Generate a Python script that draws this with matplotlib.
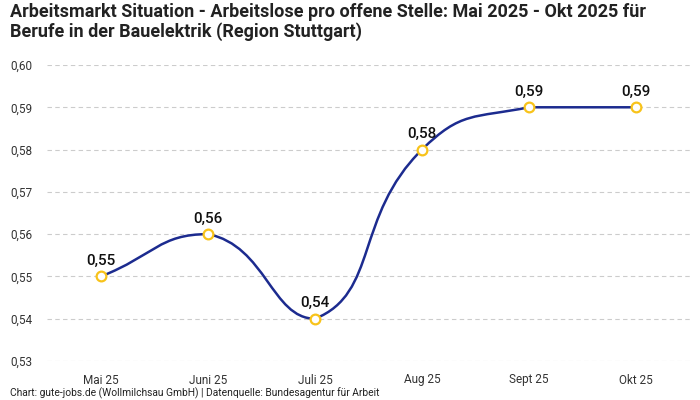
import numpy as np
import matplotlib
matplotlib.use("Agg")
import matplotlib.pyplot as plt
from matplotlib.path import Path
from matplotlib.patches import PathPatch

plt.rcParams["font.family"] = ["Roboto", "DejaVu Sans"]

# data
months = ["Mai 25", "Juni 25", "Juli 25", "Aug 25", "Sept 25", "Okt 25"]
values = [0.55, 0.56, 0.54, 0.58, 0.59, 0.59]
yticks = [0.53, 0.54, 0.55, 0.56, 0.57, 0.58, 0.59, 0.60]

title = ("Arbeitsmarkt Situation - Arbeitslose pro offene Stelle: Mai 2025 - Okt 2025 für\n"
         "Berufe in der Bauelektrik (Region Stuttgart)")
source = "Chart: gute-jobs.de (Wollmilchsau GmbH) | Datenquelle: Bundesagentur für Arbeit"

LINE = "#1c2b8f"
MARK = "#f8c31a"

fig = plt.figure(figsize=(7, 4), dpi=100)
ax = fig.add_axes([47.5 / 700, 39 / 400, 642 / 700, 296 / 400])
x = np.arange(len(months))
ax.set_xlim(-0.5, len(months) - 0.5)
ax.set_ylim(0.53, 0.60)


def smooth_path(ax, xs, ys, smooth=0.5):
    # bezier smoothing like echarts, control points clamped between neighbours
    pts = ax.transData.transform(np.column_stack([xs, ys]))
    n = len(pts)
    cps = []
    for i in range(n):
        p = pts[i]
        prev = pts[i - 1] if i > 0 else p
        nxt = pts[i + 1] if i < n - 1 else p
        v = nxt - prev
        d0 = np.hypot(*(p - prev))
        d1 = np.hypot(*(nxt - p))
        tot = d0 + d1 if d0 + d1 > 0 else 1
        c0 = p - v * smooth * d0 / tot
        c1 = p + v * smooth * d1 / tot
        c0[1] = min(max(c0[1], min(p[1], prev[1])), max(p[1], prev[1]))
        c1[1] = min(max(c1[1], min(p[1], nxt[1])), max(p[1], nxt[1]))
        cps.append((c0, c1))
    verts = [pts[0]]
    codes = [Path.MOVETO]
    for i in range(n - 1):
        verts += [cps[i][1], cps[i + 1][0], pts[i + 1]]
        codes += [Path.CURVE4] * 3
    verts = ax.transData.inverted().transform(np.array(verts))
    return Path(verts, codes)


ax.add_patch(PathPatch(smooth_path(ax, x, values), fill=False,
                       edgecolor=LINE, lw=1.8, zorder=3))
ax.plot(x, values, linestyle="none", marker="o", ms=7, mfc="white",
        mec=MARK, mew=1.6, zorder=4)

for xi, v in zip(x, values):
    ax.annotate(f"{v:.2f}".replace(".", ","), (xi, v), xytext=(0, 6),
                textcoords="offset points", ha="center", va="bottom",
                fontsize=11, fontweight="medium", color="#111111")

ax.set_xticks(x)
ax.set_xticklabels(months)
ax.set_yticks(yticks)
ax.set_yticklabels([f"{t:.2f}".replace(".", ",") for t in yticks])
ax.tick_params(axis="both", length=0, labelsize=8.5, colors="#333333")
ax.tick_params(axis="y", pad=11)
ax.tick_params(axis="x", pad=9)
ax.grid(axis="y", color="#cccccc", linestyle=(0, (4, 3)), lw=0.8)
for s in ax.spines.values():
    s.set_visible(False)

fig.text(10 / 700, 1 - 3 / 400, title, ha="left", va="top", fontsize=13,
         fontweight="bold", color="#222222", linespacing=1.1)
fig.text(10 / 700, 7 / 400, source, ha="left", va="center", fontsize=7.4,
         color="#222222")

fig.savefig("out.png", dpi=100)
